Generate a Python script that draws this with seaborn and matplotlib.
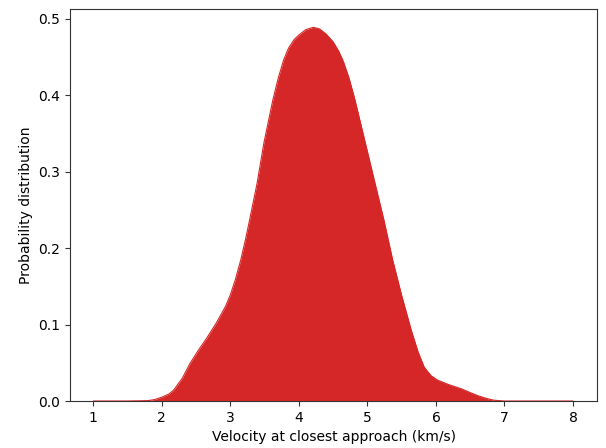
import matplotlib
matplotlib.use("Agg")
import matplotlib.pyplot as plt
import seaborn as sns
import pandas as pd

velocity = [1.0, 1.5, 1.8, 1.9, 2.0, 2.1, 2.17, 2.3, 2.41, 2.53, 2.66, 2.8, 2.93, 3.0, 3.07, 3.15,
            3.22, 3.29, 3.39, 3.49, 3.62, 3.7, 3.78, 3.85, 3.93, 4.0, 4.1, 4.21, 4.3, 4.4, 4.5, 4.58,
            4.65, 4.73, 4.81, 4.95, 5.10, 5.24, 5.37, 5.5, 5.64, 5.74, 5.83, 5.93, 6.03, 6.2,
            6.37, 6.5, 6.61, 6.75, 6.85, 7.0, 7.5, 8.0]
density = [0.0, 0.0, 0.0005, 0.002, 0.005, 0.009, 0.014, 0.03, 0.049, 0.066, 0.083, 0.103, 0.124, 0.139, 0.158, 0.184,
           0.211, 0.241, 0.285, 0.338, 0.394, 0.423, 0.447, 0.462, 0.473, 0.479, 0.486, 0.489, 0.487, 0.480, 0.470, 0.458,
           0.444, 0.423, 0.397, 0.345, 0.289, 0.237, 0.184, 0.138, 0.0925, 0.064, 0.044, 0.033, 0.027, 0.021,
           0.016, 0.011, 0.007, 0.003, 0.001, 0.0, 0.0, 0.0]

df = pd.DataFrame({"v": velocity, "p": density})

sns.set_style("white")
fig = plt.figure(figsize=(6.06, 4.48), dpi=100)
ax = fig.add_axes([70/606, 47/448, 527/606, 392/448])
sns.lineplot(data=df, x="v", y="p", color="#d62728", lw=0.8, ax=ax)
ax.fill_between(df["v"], df["p"], color="#d62728", lw=0)
ax.set_xlim(0.66, 8.35)
ax.set_ylim(0, 0.513)
ax.set_xticks([1, 2, 3, 4, 5, 6, 7, 8])
ax.set_yticks([0.0, 0.1, 0.2, 0.3, 0.4, 0.5])
ax.set_xlabel("Velocity at closest approach (km/s)", fontsize=10, color="black")
ax.set_ylabel("Probability distribution", fontsize=10, color="black")
for s in ax.spines.values():
    s.set_color("#333333")
    s.set_linewidth(0.8)
ax.tick_params(axis="both", which="both", direction="out", length=3.5, width=0.8,
               color="#333333", labelcolor="black", labelsize=10, bottom=True, left=True)
fig.savefig("out.png", dpi=100)
